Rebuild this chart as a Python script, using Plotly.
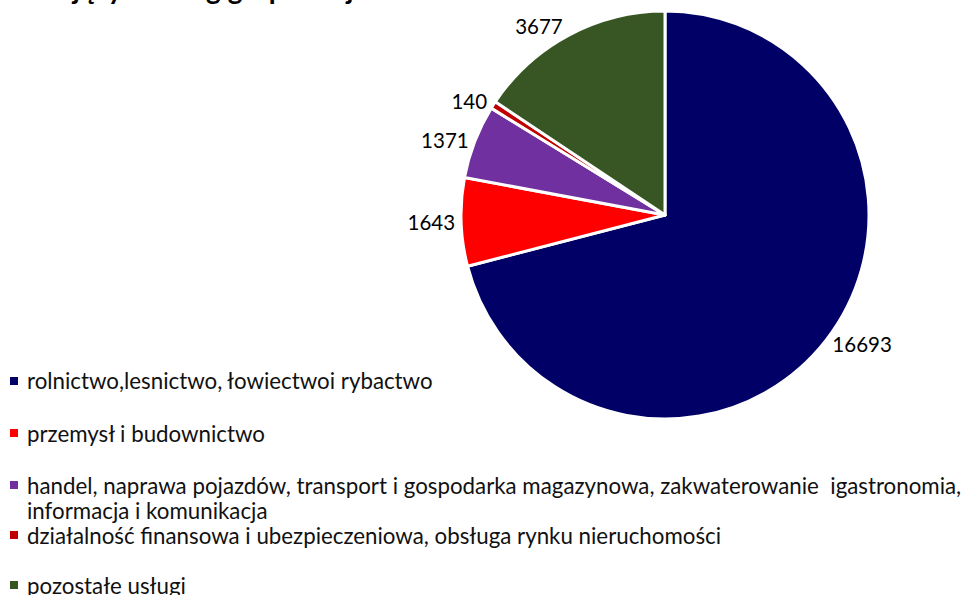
import plotly.graph_objects as go

# Sector groups and employed persons
categories = [
    "rolnictwo,lesnictwo, łowiectwoi rybactwo",
    "przemysł i budownictwo",
    "handel, naprawa pojazdów, transport i gospodarka magazynowa, zakwaterowanie  igastronomia,<br>informacja i komunikacja",
    "działalność finansowa i ubezpieczeniowa, obsługa rynku nieruchomości",
    "pozostałe usługi",
]
values = [16693, 1643, 1371, 140, 3677]
colors = ["#000066", "#FF0000", "#7030A0", "#C00000", "#375623"]
title_text = "Pracujący według grup sekcji"

W, H = 974, 595
FONT = "Lato, 'Open Sans', sans-serif"

fig = go.Figure()
fig.add_trace(go.Pie(
    values=values,
    labels=[c.replace("<br>", " ") for c in categories],
    marker=dict(colors=colors, line=dict(color="white", width=3)),
    sort=False,
    direction="clockwise",
    rotation=0,
    texttemplate="%{value:d}",
    textposition="outside",
    textfont=dict(family=FONT, size=20.5, color="#000000"),
    showlegend=False,
    hoverinfo="label+value+percent",
    domain=dict(x=[(665 - 204) / W, (665 + 204) / W],
                y=[1 - 419 / H, 1 - 11 / H]),
))

# Hand-built legend: square key + label for each sector (wrapped lines
# are set one under another with a tight line pitch)
legend_rows = [381, 433, 485, 535, 585]
LINE_PITCH = 26
annotations = []
shapes = []
for cat, col, ypx in zip(categories, colors, legend_rows):
    shapes.append(dict(type="rect", xref="paper", yref="paper",
                       x0=10 / W, x1=18 / W,
                       y0=1 - (ypx + 4) / H, y1=1 - (ypx - 4) / H,
                       fillcolor=col, line=dict(width=0)))
    for k, line in enumerate(cat.split("<br>")):
        annotations.append(dict(text=line, xref="paper", yref="paper",
                                x=25 / W, y=1 - (ypx + k * LINE_PITCH) / H,
                                xanchor="left", yanchor="middle", align="left",
                                showarrow=False,
                                font=dict(family=FONT, size=22.3, color="#111111")))

# Bold heading, sitting mostly above the page edge
annotations.append(dict(text="<b>" + title_text + "</b>", xref="paper", yref="paper",
                        x=0, y=1, xanchor="left", yanchor="bottom", yshift=-7,
                        showarrow=False,
                        font=dict(family=FONT, size=28, color="#000000")))

fig.update_layout(
    width=W, height=H,
    margin=dict(l=0, r=0, t=0, b=0),
    paper_bgcolor="white",
    plot_bgcolor="white",
    annotations=annotations,
    shapes=shapes,
)

fig.write_html("out.html")
